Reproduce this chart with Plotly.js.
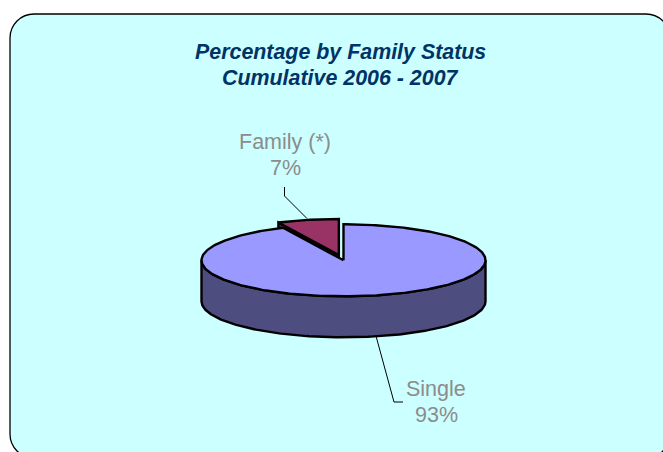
<!DOCTYPE html>
<html><head><meta charset="utf-8">
<script src="https://cdn.plot.ly/plotly-3.0.1.min.js"></script>
<style>html,body{margin:0;padding:0;background:#fff}#c{width:663px;height:452px}</style></head>
<body><div id="c"></div>
<script>
const categories = ['Single', 'Family (*)'];
const shares = [93, 7];
const labelText = ['93%', '7%'];
const titleLines = ['Percentage by Family Status', 'Cumulative 2006 - 2007'];
const colorsTop = ['#9999ff', '#993366'];
const colorsSide = ['#4d4d80', '#4d1a33'];

const cx = 343.5, cy = 260.3, rx = 142, ry = 36, depth = 41, explode = 0.15;
const total = shares.reduce((a, b) => a + b, 0);
const gapStart = 360 * shares[0] / total;   // single runs clockwise from 12 o'clock
const rad = d => d * Math.PI / 180;
const px = deg => cx + rx * Math.sin(rad(deg));
const py = deg => cy - ry * Math.cos(rad(deg));
function arc(a, b, dx = 0, dy = 0) {
  const xs = [], ys = [];
  const n = Math.ceil(Math.abs(b - a));
  for (let i = 0; i <= n; i++) { const t = a + (b - a) * i / n; xs.push(px(t) + dx); ys.push(py(t) + dy); }
  return [xs, ys];
}
function poly(x, y, fill, w = 2.4) {
  return {type: 'scatter', mode: 'lines', x, y, fill: 'toself', fillcolor: fill,
    line: {color: '#000', width: w, shape: 'linear'}, hoverinfo: 'skip', showlegend: false};
}
function leader(x, y) {
  return {type: 'scatter', mode: 'lines', x, y, line: {color: '#000', width: 1}, hoverinfo: 'skip', showlegend: false};
}
const mid = (gapStart + 360) / 2;
const ox = explode * rx * Math.sin(rad(mid)), oy = -explode * ry * Math.cos(rad(mid));
const fcx = cx + ox, fcy = cy + oy;

const famArc = arc(gapStart, 360, ox, oy);
const famSide = poly([fcx, famArc[0][0], famArc[0][0], fcx, fcx], [fcy, famArc[1][0], famArc[1][0] + depth, fcy + depth, fcy], colorsSide[1]);
const famTop = poly([fcx, ...famArc[0], fcx], [fcy, ...famArc[1], fcy], colorsTop[1]);

const wallTop = arc(90, 270);
const wallBot = arc(270, 90, 0, depth);
const wall = poly([...wallTop[0], ...wallBot[0], wallTop[0][0]], [...wallTop[1], ...wallBot[1], wallTop[1][0]], colorsSide[0]);
const sArc = arc(0, gapStart);
const sTop = poly([cx, ...sArc[0], cx], [cy, ...sArc[1], cy], colorsTop[0]);

const traces = [
  leader([284.5, 284.5, 307], [187, 196, 218.5]),
  famSide, famTop, wall, sTop,
  leader([376, 394, 403], [336, 402, 402])
];
const border = 'M 10 38 C 10 24.7 20.7 14 34 14 L 646 14 C 659.3 14 670 24.7 670 38 L 670 434 C 670 447.3 659.3 458 646 458 L 34 458 C 20.7 458 10 447.3 10 434 Z';
const font = 'Liberation Sans, Arial, sans-serif';
const text = (x, y, t, size, color) => ({x, y, xref: 'x', yref: 'y', showarrow: false, text: t,
  font: {family: font, size, color}});
const navy = '#003366', grey = '#8c8c8c';
const layout = {
  width: 663, height: 452, margin: {l: 0, r: 0, t: 0, b: 0},
  paper_bgcolor: '#fff', plot_bgcolor: 'rgba(0,0,0,0)', showlegend: false,
  xaxis: {range: [0, 663], visible: false, fixedrange: true},
  yaxis: {range: [452, 0], visible: false, fixedrange: true},
  shapes: [{type: 'path', path: border, layer: 'below', fillcolor: '#ccffff', line: {color: '#000', width: 1.3}}],
  annotations: [
    text(340.5, 52, '<b><i>' + titleLines[0] + '</i></b>', 21.4, navy),
    text(340.5, 78, '<b><i>' + titleLines[1] + '</i></b>', 21.4, navy),
    text(285, 141.5, categories[1], 21.5, grey),
    text(285, 167.5, labelText[1], 21.5, grey),
    text(436, 388.5, categories[0], 21.5, grey),
    text(436, 415, labelText[0], 21.5, grey)
  ]
};
Plotly.newPlot('c', traces, layout, {displayModeBar: false, staticPlot: true});
</script></body></html>
